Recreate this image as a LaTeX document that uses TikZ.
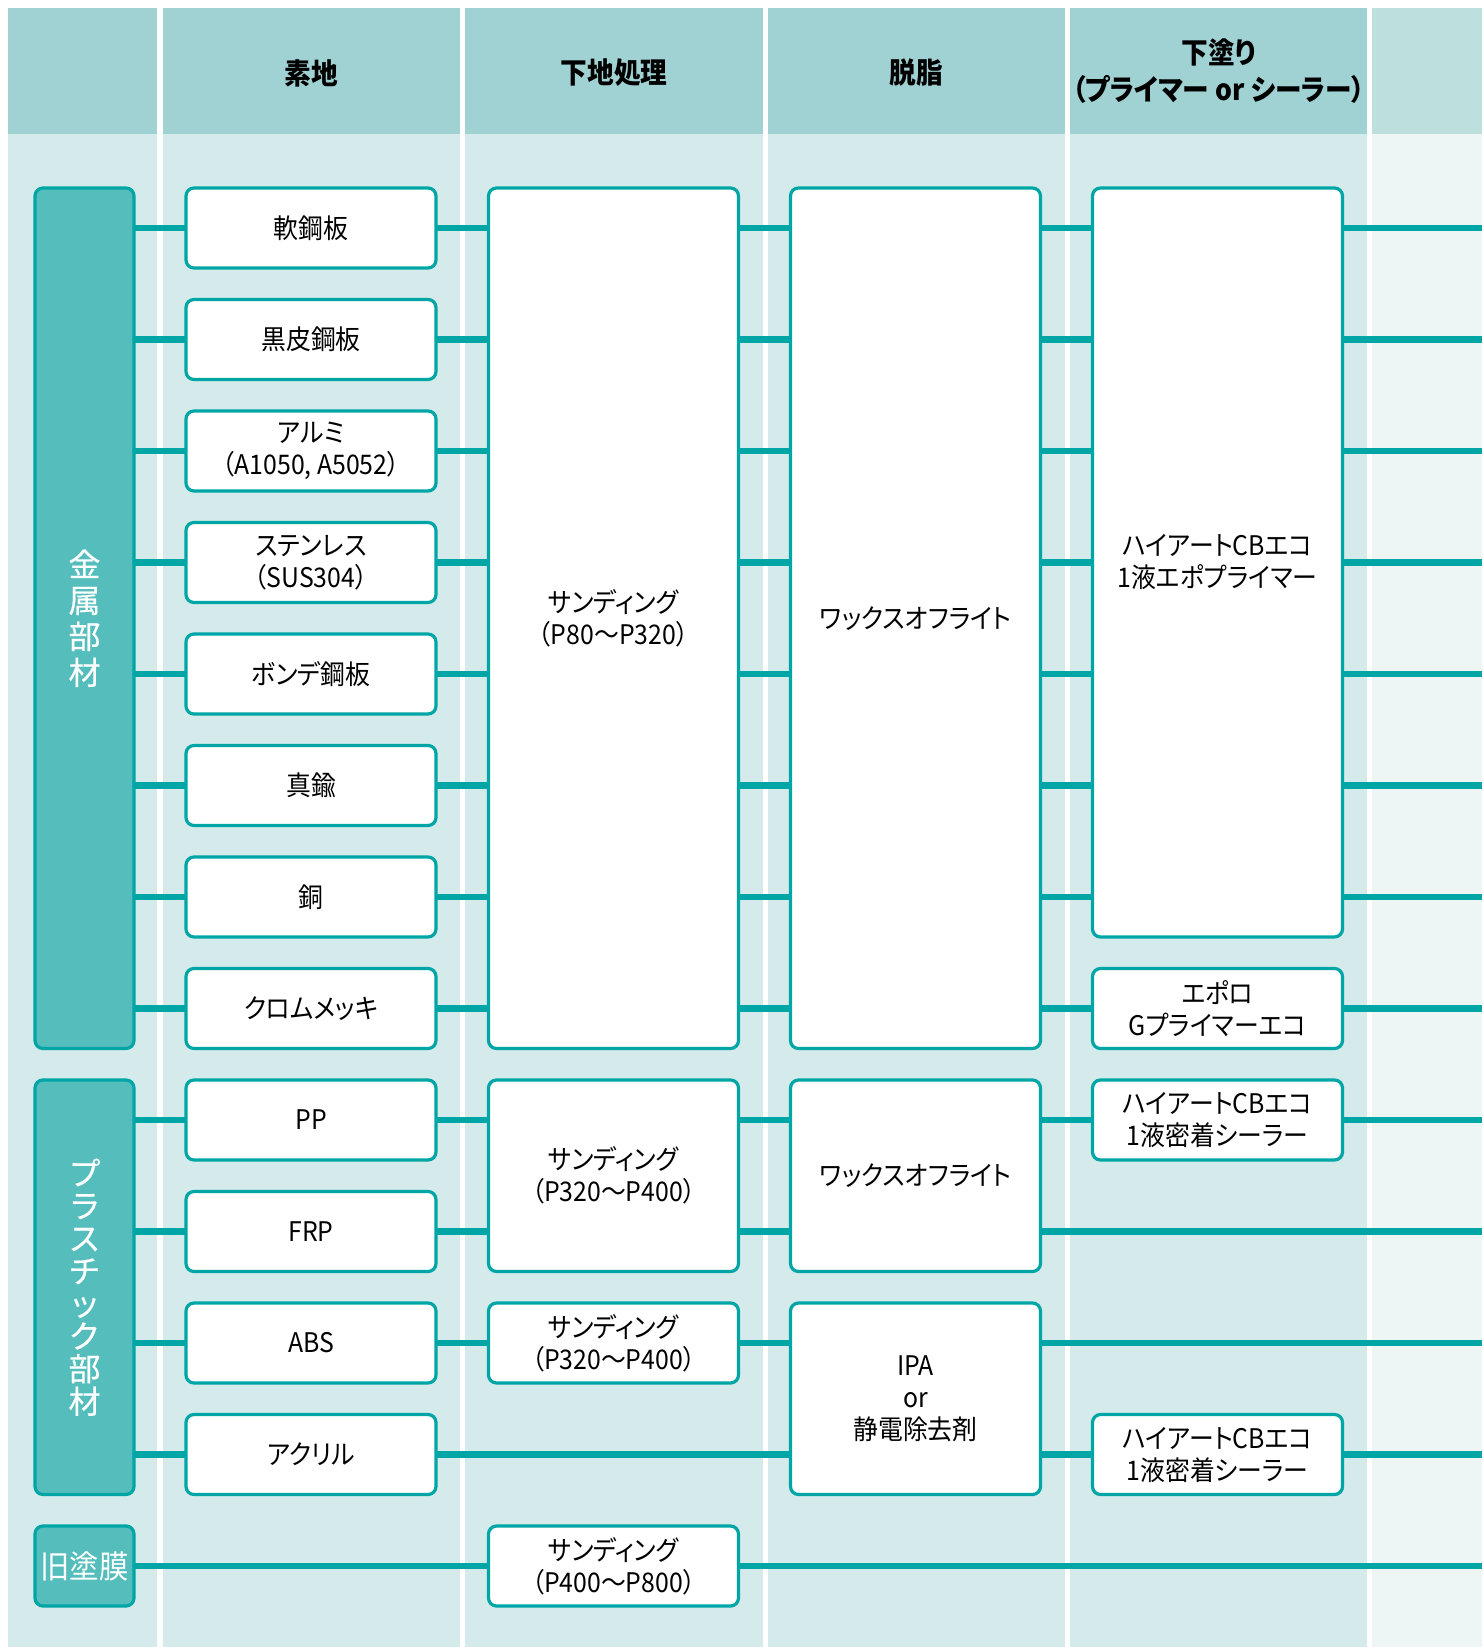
\documentclass[tikz,border=0pt]{standalone}
\usepackage{fontspec}
\setmainfont{Noto Sans CJK JP}[RawFeature=+palt, FakeStretch=0.92]
\newfontfamily\grpfont{Noto Sans CJK JP}[FakeBold=0.4]
\newfontfamily\hdrfont{Noto Sans CJK JP}[RawFeature=+palt, FakeStretch=0.92]
\usetikzlibrary{positioning, calc}

\definecolor{hdrcol}{HTML}{A0D2D3}
\definecolor{bodycol}{HTML}{D4EAEB}
\definecolor{hdrlight}{HTML}{BDE0DF}
\definecolor{bodylight}{HTML}{EEF5F5}
\definecolor{tealline}{HTML}{00A6A6}
\definecolor{grpfill}{HTML}{56BDBD}

\tikzset{
  box/.style={draw=tealline, line width=1.6pt, fill=white, rounded corners=4pt,
    align=center, inner sep=0pt, outer sep=0pt, minimum width=125pt, minimum height=40pt,
    font=\fontsize{13.5}{16}\selectfont},
  grpbox/.style={draw=tealline, line width=1.6pt, fill=grpfill, rounded corners=4pt,
    align=center, inner sep=0pt, outer sep=0pt, minimum width=49.5pt, text=white},
  hdr/.style={align=center, font=\hdrfont\bfseries\fontsize{14.5}{18.8}\selectfont},
  conn/.style={draw=tealline, line width=3.3pt},
}

\begin{document}
\begin{tikzpicture}[x=0.5pt, y=-0.5pt, node distance=15.75pt]
  \useasboundingbox (0,0) rectangle (1482,1647);

  % column bands
  \foreach \l/\r in {8/157, 163/460, 465/763, 768/1065, 1070/1367} {
    \fill[bodycol] (\l,134) rectangle (\r,1647);
    \fill[hdrcol] (\l,8) rectangle (\r,134);
  }
  \fill[bodylight] (1372,134) rectangle (1482,1647);
  \fill[hdrlight] (1372,8) rectangle (1482,134);

  % headers
  \node[hdr] (h1) at (311.5,73) {素地};
  \node[hdr] (h2) at (614,73) {下地処理};
  \node[hdr] (h3) at (916.5,73) {脱脂};
  \node[hdr] (h4) at (1218.5,71) {下塗り\\（プライマー or シーラー）};

  % materials
  \node[box] (m1) at (311,228) {軟鋼板};
  \node[box, below=of m1] (m2) {黒皮鋼板};
  \node[box, below=of m2] (m3) {アルミ\\（A1050, A5052）};
  \node[box, below=of m3] (m4) {ステンレス\\（SUS304）};
  \node[box, below=of m4] (m5) {ボンデ鋼板};
  \node[box, below=of m5] (m6) {真鍮};
  \node[box, below=of m6] (m7) {銅};
  \node[box, below=of m7] (m8) {クロムメッキ};
  \node[box, below=of m8] (m9) {PP};
  \node[box, below=of m9] (m10) {FRP};
  \node[box, below=of m10] (m11) {ABS};
  \node[box, below=of m11] (m12) {アクリル};

  % groups
  \node[grpbox, minimum height=430.25pt, font=\grpfont\fontsize{16}{18}\selectfont]
    (g1) at (84.5,618.25) {金\\属\\部\\材};
  \node[grpbox, minimum height=207.25pt, font=\grpfont\fontsize{16}{16.3}\selectfont]
    (g2) at (84.5,1287.25) {プ\\ラ\\ス\\チ\\ッ\\ク\\部\\材};
  \node[grpbox, minimum height=40pt, font=\fontsize{16}{17}\selectfont]
    (g3) at (84.5,1566) {旧塗膜};

  % surface preparation
  \node[box, minimum height=430.25pt] (p1) at (613.5,618.25) {サンディング\\（P80〜P320）};
  \node[box, minimum height=95.75pt] (p2) at (613.5,1175.75) {サンディング\\（P320〜P400）};
  \node[box] (p3) at (613.5,1343) {サンディング\\（P320〜P400）};
  \node[box] (p4) at (613.5,1566) {サンディング\\（P400〜P800）};

  % degreasing
  \node[box, minimum height=430.25pt] (d1) at (915.5,618.25) {ワックスオフライト};
  \node[box, minimum height=95.75pt] (d2) at (915.5,1175.75) {ワックスオフライト};
  \node[box, minimum height=95.75pt] (d3) at (915.5,1398.75) {IPA\\or\\静電除去剤};

  % undercoat
  \node[box, minimum height=374.5pt] (u1) at (1217.5,562.5) {ハイアートCBエコ\\1液エポプライマー};
  \node[box] (u2) at (1217.5,1008.5) {エポロ\\Gプライマーエコ};
  \node[box] (u3) at (1217.5,1120) {ハイアートCBエコ\\1液密着シーラー};
  \node[box] (u4) at (1217.5,1454.5) {ハイアートCBエコ\\1液密着シーラー};

  \coordinate (edge) at (1482,0);

  % metal rows
  \foreach \i in {1,...,8} {
    \draw[conn] (m\i.west -| g1.east) -- (m\i.west);
    \draw[conn] (m\i.east) -- (m\i.east -| p1.west);
    \draw[conn] (m\i.east -| p1.east) -- (m\i.east -| d1.west);
  }
  \foreach \i in {1,...,7} {
    \draw[conn] (m\i.east -| d1.east) -- (m\i.east -| u1.west);
    \draw[conn] (m\i.east -| u1.east) -- (m\i.east -| edge);
  }
  \draw[conn] (m8.east -| d1.east) -- (u2.west);
  \draw[conn] (u2.east) -- (u2.east -| edge);

  % plastic rows
  \foreach \i in {9,...,12}
    \draw[conn] (m\i.west -| g2.east) -- (m\i.west);
  \draw[conn] (m9.east) -- (m9.east -| p2.west);
  \draw[conn] (m9.east -| p2.east) -- (m9.east -| d2.west);
  \draw[conn] (m9.east -| d2.east) -- (u3.west);
  \draw[conn] (u3.east) -- (u3.east -| edge);
  \draw[conn] (m10.east) -- (m10.east -| p2.west);
  \draw[conn] (m10.east -| p2.east) -- (m10.east -| d2.west);
  \draw[conn] (m10.east -| d2.east) -- (m10.east -| edge);
  \draw[conn] (m11.east) -- (p3.west);
  \draw[conn] (p3.east) -- (p3.east -| d3.west);
  \draw[conn] (p3.east -| d3.east) -- (p3.east -| edge);
  \draw[conn] (m12.east) -- (m12.east -| d3.west);
  \draw[conn] (m12.east -| d3.east) -- (u4.west);
  \draw[conn] (u4.east) -- (u4.east -| edge);

  % old coating
  \draw[conn] (g3.east) -- (p4.west);
  \draw[conn] (p4.east) -- (p4.east -| edge);
\end{tikzpicture}
\end{document}
